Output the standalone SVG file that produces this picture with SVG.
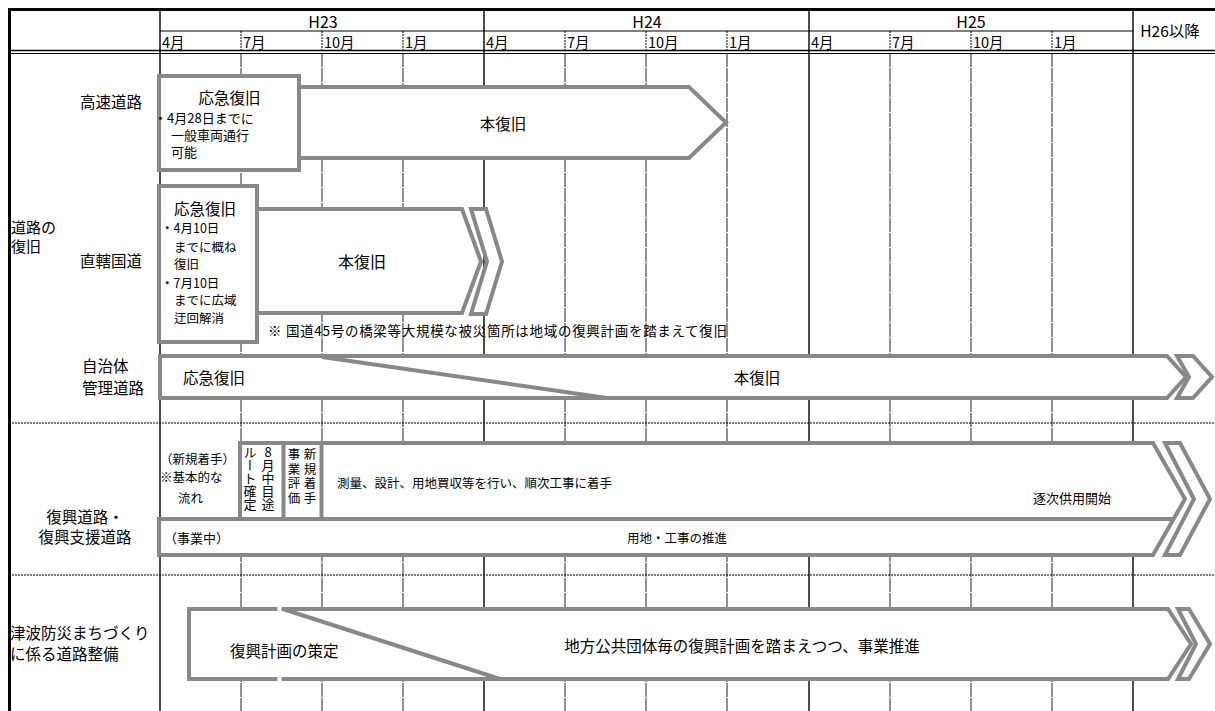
<svg xmlns="http://www.w3.org/2000/svg" width="1215" height="711" viewBox="0 0 1215 711">
<style>
.t{font-family:"Noto Sans CJK JP","Noto Sans CJK SC",sans-serif;fill:#000}
.box{fill:#fff;stroke:#888;stroke-width:4;stroke-linejoin:miter}
.gl{stroke:#888;stroke-width:4;fill:none}
.ql{stroke:#222;stroke-width:1;stroke-dasharray:14 1}
.hq{stroke:#000;stroke-width:1;stroke-dasharray:2 1}
.yl{stroke:#000;stroke-width:1.4}
.dl{stroke:#000;stroke-width:1;stroke-dasharray:2 1}
.v{writing-mode:vertical-rl}
</style>
<rect width="1215" height="711" fill="#fff"/>
<g id="grid">
  <line class="ql" x1="241" y1="53" x2="241" y2="711"/>
  <line class="ql" x1="322" y1="53" x2="322" y2="711"/>
  <line class="ql" x1="403" y1="53" x2="403" y2="711"/>
  <line class="ql" x1="565" y1="53" x2="565" y2="711"/>
  <line class="ql" x1="646" y1="53" x2="646" y2="711"/>
  <line class="ql" x1="727" y1="53" x2="727" y2="711"/>
  <line class="ql" x1="890" y1="53" x2="890" y2="711"/>
  <line class="ql" x1="971" y1="53" x2="971" y2="711"/>
  <line class="ql" x1="1052" y1="53" x2="1052" y2="711"/>
  <line class="hq" x1="241" y1="31" x2="241" y2="50"/>
  <line class="hq" x1="322" y1="31" x2="322" y2="50"/>
  <line class="hq" x1="403" y1="31" x2="403" y2="50"/>
  <line class="hq" x1="565" y1="31" x2="565" y2="50"/>
  <line class="hq" x1="646" y1="31" x2="646" y2="50"/>
  <line class="hq" x1="727" y1="31" x2="727" y2="50"/>
  <line class="hq" x1="890" y1="31" x2="890" y2="50"/>
  <line class="hq" x1="971" y1="31" x2="971" y2="50"/>
  <line class="hq" x1="1052" y1="31" x2="1052" y2="50"/>
  <line class="yl" x1="160" y1="9" x2="160" y2="711"/>
  <line class="yl" x1="484" y1="9" x2="484" y2="711"/>
  <line class="yl" x1="809" y1="9" x2="809" y2="711"/>
  <line class="yl" x1="1133" y1="9" x2="1133" y2="711"/>
  <line stroke="#000" stroke-width="1.2" x1="160" y1="31" x2="1133" y2="31"/>
  <line stroke="#000" stroke-width="1.6" x1="9" y1="50.5" x2="1215" y2="50.5"/>
  <line stroke="#000" stroke-width="1" x1="9" y1="53.5" x2="1215" y2="53.5"/>
  <line class="dl" x1="9" y1="423" x2="1215" y2="423"/>
  <line class="dl" x1="9" y1="575" x2="1215" y2="575"/>
  <line stroke="#000" stroke-width="3" x1="8" y1="9.5" x2="1215" y2="9.5"/>
  <line stroke="#000" stroke-width="3" x1="9.5" y1="8" x2="9.5" y2="711"/>
</g>
<g id="header" class="t">
  <text x="323" y="27.5" font-size="16" text-anchor="middle">H23</text>
  <text x="647" y="27.5" font-size="16" text-anchor="middle">H24</text>
  <text x="971" y="27.5" font-size="16" text-anchor="middle">H25</text>
  <text x="1170" y="37" font-size="15.5" text-anchor="middle">H26以降</text>
  <g font-size="14.5">
  <text x="162" y="48">4月</text>
  <text x="243" y="48">7月</text>
  <text x="324" y="48">10月</text>
  <text x="405" y="48">1月</text>
  <text x="486" y="48">4月</text>
  <text x="567" y="48">7月</text>
  <text x="648" y="48">10月</text>
  <text x="729" y="48">1月</text>
  <text x="811" y="48">4月</text>
  <text x="892" y="48">7月</text>
  <text x="973" y="48">10月</text>
  <text x="1054" y="48">1月</text>
  </g>
</g>
<g id="labels" class="t" font-size="15.5">
  <text x="142" y="108" text-anchor="end">高速道路</text>
  <text x="11" y="233" font-size="15">道路の</text>
  <text x="11" y="252" font-size="15">復旧</text>
  <text x="142" y="267" text-anchor="end">直轄国道</text>
  <text x="82" y="372">自治体</text>
  <text x="82" y="394">管理道路</text>
  <text x="85" y="523" text-anchor="middle">復興道路・</text>
  <text x="85" y="543" text-anchor="middle">復興支援道路</text>
  <text x="10" y="639" font-size="15.5">津波防災まちづくり</text>
  <text x="10" y="660" font-size="15.5">に係る道路整備</text>
</g>
<g id="expressway">
  <polygon class="box" points="290,87 689,87 726,122.5 689,158 290,158"/>
  <rect class="box" x="159" y="76" width="140" height="94"/>
  <g class="t">
    <text x="229.5" y="104" font-size="15.5" text-anchor="middle">応急復旧</text>
    <text x="154" y="122.5" font-size="13">・4月28日までに</text>
    <text x="171" y="140" font-size="13">一般車両通行</text>
    <text x="171" y="157" font-size="13">可能</text>
    <text x="503" y="130" font-size="15.5" text-anchor="middle">本復旧</text>
  </g>
</g>
<g id="national-road">
  <polygon class="box" points="250,209 462,209 481,261.5 462,313 250,313"/>
  <polygon class="box" points="471,209 486,209 502,261.5 486,314 471,314 487,261.5"/>
  <rect class="box" x="159" y="186" width="98" height="156"/>
  <g class="t">
    <text x="205" y="215" font-size="15.5" text-anchor="middle">応急復旧</text>
    <text x="161" y="233" font-size="12.5">・4月10日</text>
    <text x="174" y="251.5" font-size="12.5">までに概ね</text>
    <text x="174" y="269" font-size="12.5">復旧</text>
    <text x="161" y="288" font-size="12.5">・7月10日</text>
    <text x="174" y="305" font-size="12.5">までに広域</text>
    <text x="174" y="323" font-size="12.5">迂回解消</text>
    <text x="362" y="268" font-size="16" text-anchor="middle">本復旧</text>
    <text x="268" y="335.5" font-size="13.5" textLength="459" lengthAdjust="spacing">※ 国道45号の橋梁等大規模な被災箇所は地域の復興計画を踏まえて復旧</text>
  </g>
</g>
<g id="local-road">
  <polygon class="box" points="160,356 1167,356 1186,377 1167,398 160,398"/>
  <polygon class="box" points="1177,356 1193,356 1212,377 1193,398 1177,398 1189,377"/>
  <line class="gl" x1="322" y1="357" x2="607" y2="398"/>
  <g class="t" font-size="15.5">
    <text x="183" y="384">応急復旧</text>
    <text x="757" y="384" text-anchor="middle">本復旧</text>
  </g>
</g>
<g id="reconstruction-road">
  <polygon class="box" points="240,443 1153,443 1185,499 1153,555 159,555 159,519 240,519"/>
  <polygon class="box" points="1165,443 1180,443 1210,499 1180,555 1165,555 1194,499"/>
  <line class="gl" x1="159" y1="519" x2="1174" y2="519"/>
  <line class="gl" x1="283.5" y1="443" x2="283.5" y2="519"/>
  <line class="gl" x1="321.5" y1="443" x2="321.5" y2="519"/>
  <g class="t">
    <text x="160" y="464" font-size="12.5">（新規着手）</text>
    <text x="160" y="482" font-size="12.5">※基本的な</text>
    <text x="178" y="502.5" font-size="12.5">流れ</text>
    <text x="268" y="457" font-size="13" text-anchor="middle">8</text>
    <text class="v" x="268" y="459" font-size="13">月中目途</text>
    <text class="v" x="250" y="446" font-size="13">ルート確定</text>
    <text class="v" x="310" y="448" font-size="12.5" letter-spacing="2">新規着手</text>
    <text class="v" x="294" y="448" font-size="12.5" letter-spacing="2">事業評価</text>
    <text x="337" y="488" font-size="12.5">測量、設計、用地買収等を行い、順次工事に着手</text>
    <text x="1033" y="503" font-size="13">逐次供用開始</text>
    <text x="164" y="543" font-size="13">（事業中）</text>
    <text x="677" y="543" font-size="12.5" text-anchor="middle">用地・工事の推進</text>
  </g>
</g>
<g id="tsunami-road">
  <polygon class="box" points="189,609 1168,609 1191,644 1168,679 189,679"/>
  <polygon class="box" points="1178,609 1189,609 1210,644 1189,679 1178,679 1196,644"/>
  <line class="gl" x1="283" y1="609" x2="500" y2="679"/>
  <rect x="277.5" y="606" width="4" height="76" fill="#fff"/>
  <g class="t" font-size="15.5">
    <text x="230" y="657">復興計画の策定</text>
    <text x="742" y="652" text-anchor="middle">地方公共団体毎の復興計画を踏まえつつ、事業推進</text>
  </g>
</g>
<g id="connectors"/>
</svg>
